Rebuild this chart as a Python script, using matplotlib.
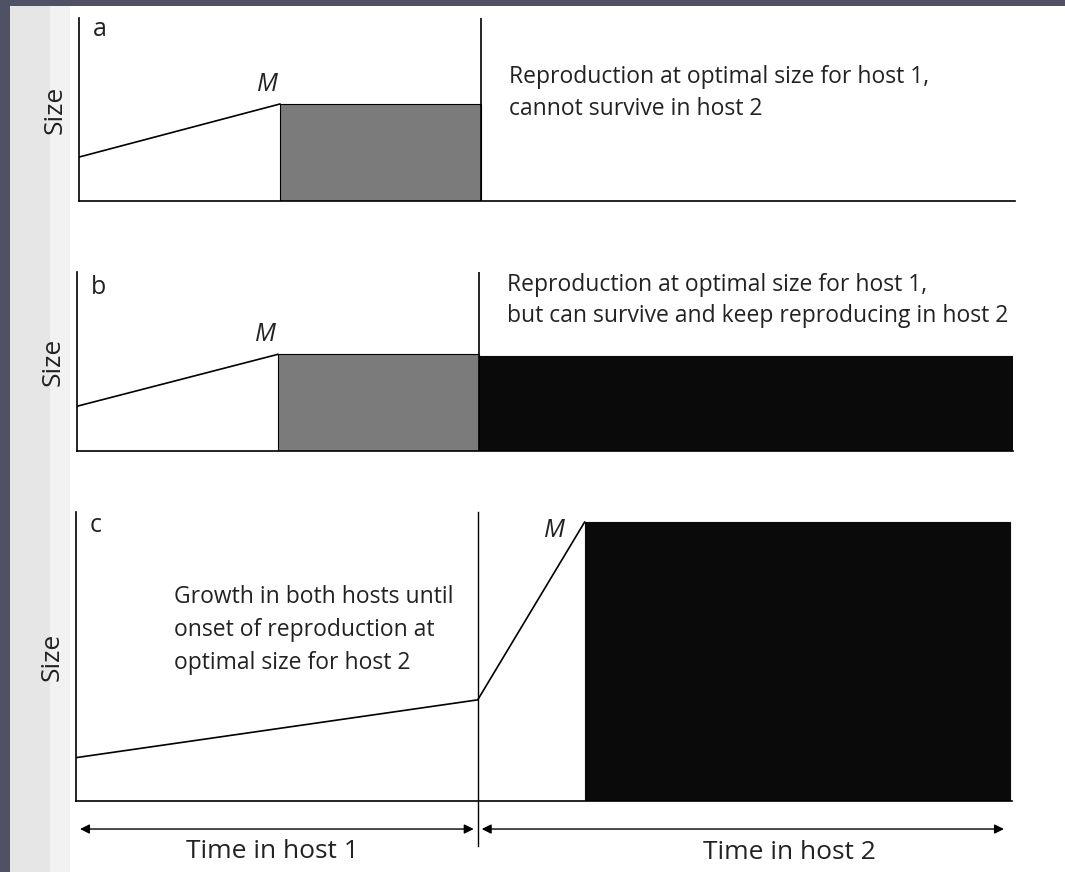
import matplotlib
matplotlib.use("Agg")
import matplotlib.pyplot as plt
from matplotlib.patches import Rectangle

# ---------------- data (time units: host 1 = 0..10, host 2 = 10..end) ----------------
host_switch = 10.0
t_end = 23.3
panels = ["a", "b", "c"]
# panel a
a_start_size, a_M_time, a_M_size = 2.4, 5.0, 5.3
# panel b
b_start_size, b_M_time, b_M_size, b_host2_size = 2.5, 5.0, 5.4, 5.3
# panel c
c_start_size, c_switch_size, c_M_time, c_M_size, c_end = 1.5, 3.5, 12.66, 9.65, 23.26
texts = {
    "a": "Reproduction at optimal size for host 1,\ncannot survive in host 2",
    "b": "Reproduction at optimal size for host 1,\nbut can survive and keep reproducing in host 2",
    "c": "Growth in both hosts until\nonset of reproduction at\noptimal size for host 2",
}
xlabels = ["Time in host 1", "Time in host 2"]

W, H = 1065, 872
fig = plt.figure(figsize=(W / 100, H / 100), dpi=100)
fig.patch.set_facecolor("white")
plt.rcParams["font.family"] = ["Open Sans", "DejaVu Sans"]

# scan background decorations
bg = fig.add_axes([0, 0, 1, 1], zorder=-10)
bg.set_xlim(0, W); bg.set_ylim(H, 0); bg.axis("off")
bg.add_patch(Rectangle((10, 6), 40, H, color="#e6e6e6", lw=0))
bg.add_patch(Rectangle((50, 6), 20, H, color="#f2f2f2", lw=0))
bg.add_patch(Rectangle((0, 0), W, 6, color="#4f5164", lw=0))
bg.add_patch(Rectangle((0, 0), 10, H, color="#4f5164", lw=0))

GREY = "#7b7b7b"
BLACK = "#0a0a0a"
TXT = "#222222"
FS = 16.5

def make_ax(left_px, top_px, bottom_px, right_px):
    ax = fig.add_axes([left_px / W, 1 - bottom_px / H, (right_px - left_px) / W,
                       (bottom_px - top_px) / H])
    ax.set_xlim(0, t_end * (right_px - left_px) / 936)
    ax.set_ylim(0, 10)
    for s in ["top", "right"]:
        ax.spines[s].set_visible(False)
    for s in ["left", "bottom"]:
        ax.spines[s].set_linewidth(1.2)
    ax.set_xticks([]); ax.set_yticks([])
    ax.set_facecolor("none")
    ax.set_ylabel("Size", fontsize=19, labelpad=8, color=TXT)
    return ax

# ---------------- panel a ----------------
ax = make_ax(79, 18, 201, 1015)
ax.plot([0, a_M_time], [a_start_size, a_M_size], color="black", lw=1.2)
ax.bar(a_M_time, a_M_size, width=host_switch - a_M_time, align="edge",
       color=GREY, edgecolor="black", lw=0.8)
ax.axvline(host_switch, color="black", lw=1.2)
ax.text(0.35, 9.35, panels[0], fontsize=18, va="center", color=TXT)
ax.text(a_M_time - 0.3, a_M_size + 0.4, "M", fontsize=18, style="italic", ha="center",
        va="bottom", color=TXT)
ax.text(host_switch + 0.7, 5.9, texts["a"], fontsize=FS, va="center", linespacing=1.45, color=TXT)

# ---------------- panel b ----------------
ax = make_ax(77, 272, 451, 1013)
ax.plot([0, b_M_time], [b_start_size, b_M_size], color="black", lw=1.2)
ax.bar(b_M_time, b_M_size, width=host_switch - b_M_time, align="edge",
       color=GREY, edgecolor="black", lw=0.8)
ax.bar(host_switch, b_host2_size, width=t_end - host_switch, align="edge",
       color=BLACK, edgecolor=BLACK, lw=0.8)
ax.axvline(host_switch, color="black", lw=1.2)
ax.text(0.35, 9.16, panels[1], fontsize=18, va="center", color=TXT)
ax.text(b_M_time - 0.3, b_M_size + 0.4, "M", fontsize=18, style="italic", ha="center",
        va="bottom", color=TXT)
ax.text(host_switch + 0.7, 8.4, texts["b"], fontsize=FS, va="center", linespacing=1.4, color=TXT)

# ---------------- panel c ----------------
ax = make_ax(76, 512, 801, 1012)
ax.plot([0, host_switch, c_M_time], [c_start_size, c_switch_size, c_M_size], color="black", lw=1.2)
ax.bar(c_M_time, c_M_size, width=c_end - c_M_time, align="edge",
       color=BLACK, edgecolor=BLACK, lw=0.8)
ax.plot([host_switch, host_switch], [10, -1.55], color="black", lw=1.0, clip_on=False)
ax.text(0.35, 9.55, panels[2], fontsize=18, va="center", color=TXT)
ax.text(c_M_time - 0.75, c_M_size - 0.3, "M", fontsize=18, style="italic", ha="center",
        va="center", color=TXT)
ax.text(2.45, 5.92, texts["c"], fontsize=FS, va="center", linespacing=1.5, color=TXT)

arrow_y = -0.97
ax.annotate("", xy=(0.1, arrow_y), xytext=(host_switch - 0.1, arrow_y),
            arrowprops=dict(arrowstyle="<|-|>", color="black", lw=1.0, mutation_scale=14,
                            shrinkA=0, shrinkB=0), annotation_clip=False)
ax.annotate("", xy=(host_switch + 0.1, arrow_y), xytext=(23.1, arrow_y),
            arrowprops=dict(arrowstyle="<|-|>", color="black", lw=1.0, mutation_scale=14,
                            shrinkA=0, shrinkB=0), annotation_clip=False)
ax.text(host_switch / 2 - 0.1, -1.75, xlabels[0], fontsize=19, ha="center", va="center", color=TXT)
ax.text(17.75, -1.78, xlabels[1], fontsize=19, ha="center", va="center", color=TXT)

fig.savefig("out.png", dpi=100, facecolor=fig.get_facecolor())
